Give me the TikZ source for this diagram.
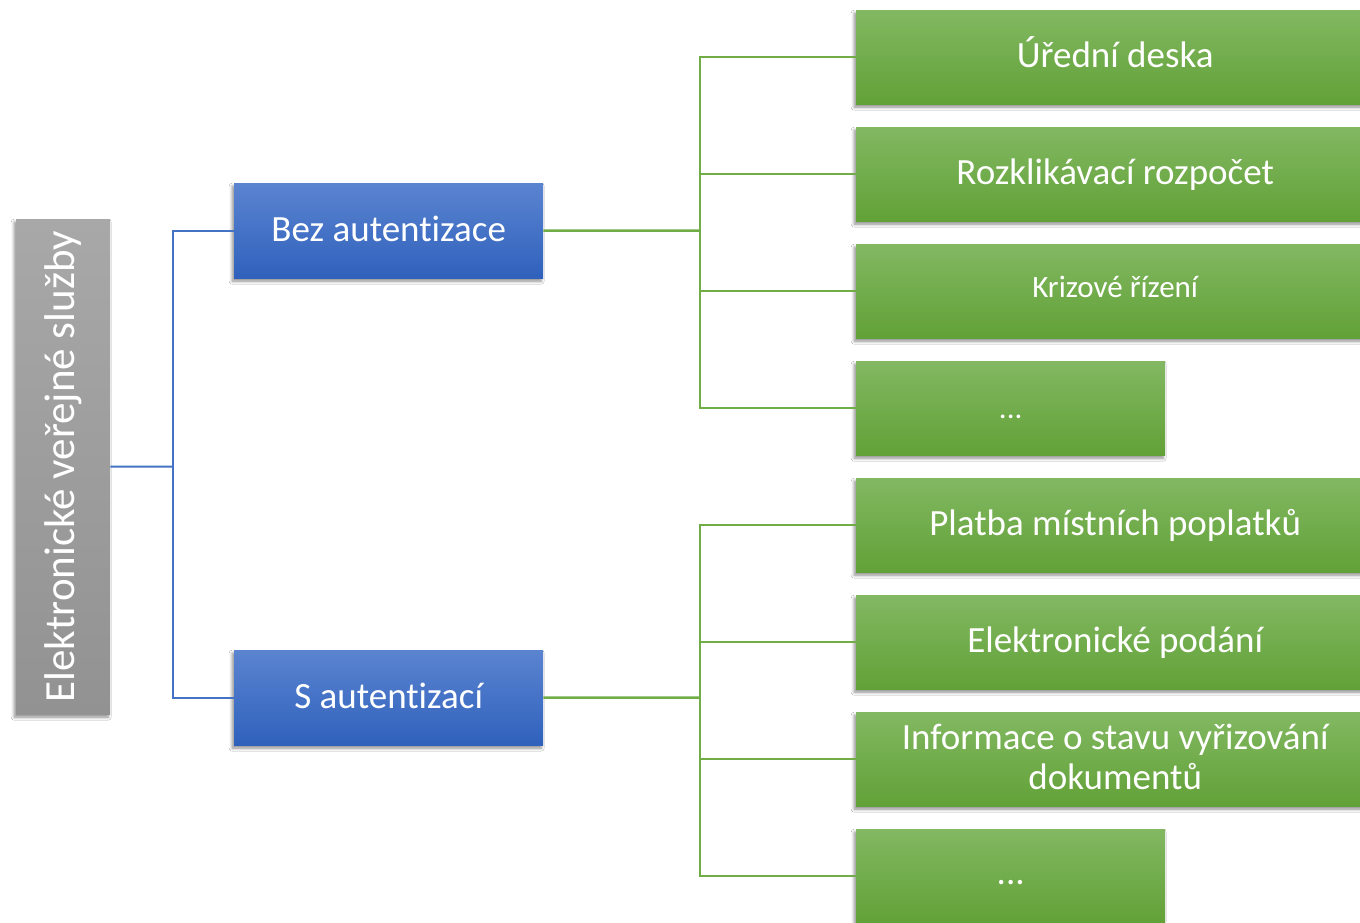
\documentclass[tikz,border=0pt]{standalone}
\usepackage{fontspec}
\usepackage{graphicx}
\setmainfont{Carlito}[Ligatures=NoCommon]
\usetikzlibrary{shadows.blur}
\definecolor{blueT}{HTML}{5B84D0}
\definecolor{blueB}{HTML}{2F61BC}
\definecolor{greenT}{HTML}{82B862}
\definecolor{greenB}{HTML}{62A137}
\definecolor{grayT}{HTML}{A8A8A8}
\definecolor{grayB}{HTML}{929292}
\definecolor{blueL}{HTML}{4472C4}
\definecolor{greenL}{HTML}{70AD47}
\tikzset{
  boxbase/.style={rectangle, inner sep=0pt, anchor=north west, text=white, align=center,
    font=\fontsize{37}{40}\selectfont, text height=21pt, text depth=0pt,
    blur shadow={shadow xshift=-2pt, shadow yshift=-3pt, shadow blur steps=6, shadow blur radius=3pt, shadow opacity=45}},
  graybox/.style={boxbase, top color=grayT, bottom color=grayB, minimum width=94pt, minimum height=495pt,
    font=\fontsize{43}{46}\selectfont, text height=, text depth=},
  bluebox/.style={boxbase, top color=blueT, bottom color=blueB, minimum width=309pt, minimum height=95pt},
  greenbox/.style={boxbase, top color=greenT, bottom color=greenB, minimum width=518pt, minimum height=94pt},
  smallgreen/.style={greenbox, minimum width=309pt},
  smalltext/.style={font=\fontsize{31}{34}\selectfont},
  bline/.style={draw=blueL, line width=2pt},
  gline/.style={draw=greenL, line width=2.5pt},
}
\begin{document}
\begin{tikzpicture}[x=1pt,y=-1pt]
\path[use as bounding box, fill=white] (0,0) rectangle (1360,922);
\begin{scope}
\clip (0,0) rectangle (1360,922);
% root
\node[graybox] (root) at (16,219) {\rotatebox{90}{Elektronické veřejné služby}};
% blue
\node[bluebox] (b1) at (234,183) {Bez autentizace};
\node[bluebox] (b2) at (234,650) {S autentizací};
% green upper
\node[greenbox] (g1) at (856,10) {Úřední deska};
\node[greenbox] (g2) at (856,127) {Rozklikávací rozpočet};
\node[greenbox, smalltext, text height=13pt] (g3) at (856,244) {Krizové řízení};
\node[smallgreen, smalltext, text height=20pt] (g4) at (856,361) {...};
% green lower
\node[greenbox] (g5) at (856,478) {Platba místních poplatků};
\node[greenbox] (g6) at (856,595) {Elektronické podání};
\node[greenbox, text height=60pt] (g7) at (856,712) {Informace o stavu vyřizování\\dokumentů};
\node[smallgreen, text height=16pt] (g8) at (856,829) {...};
% junctions
\coordinate (jr) at (173,466.5);
\coordinate (j1) at (700,230.5);
\coordinate (j2) at (700,697.5);
% connectors
\draw[bline] (root.east) -- (jr);
\draw[bline] (jr) |- (b1.west);
\draw[bline] (jr) |- (b2.west);
\draw[gline] (b1.east) -- (j1);
\foreach \g in {g1,g2,g3,g4} \draw[gline] (j1) |- (\g.west);
\draw[gline] (b2.east) -- (j2);
\foreach \g in {g5,g6,g7,g8} \draw[gline] (j2) |- (\g.west);
\end{scope}
\end{tikzpicture}
\end{document}
